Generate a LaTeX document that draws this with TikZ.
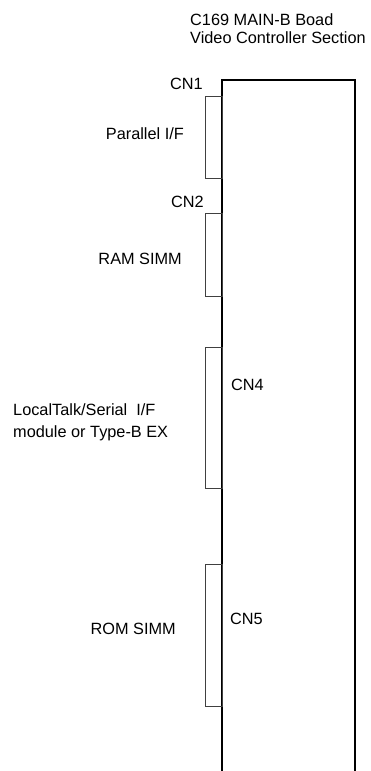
\documentclass[tikz,border=0pt]{standalone}
\usepackage{fontspec}
\setmainfont{Liberation Sans}
\begin{document}
\begin{tikzpicture}[x=1pt,y=-1pt,
  lbl/.style={font=\fontsize{16.3}{18}\selectfont,inner sep=0pt},
  slot/.style={draw=black!75,line width=0.8pt}]
  \useasboundingbox (0,0) rectangle (371,771);
  % Board title
  \node[lbl,anchor=base west] (title) at (190,25) {C169 MAIN-B Boad};
  \node[lbl,anchor=base west] (section) at (190,43) {Video Controller Section};
  % Board outline (open at the bottom)
  \draw[line width=2pt] (222,771) -- (222,80) -- (355,80) -- (355,771);
  % Connector slots on the left edge
  \draw[slot] (205,96) rectangle (222,178);
  \draw[slot] (205,213) rectangle (222,296);
  \draw[slot] (205,347) rectangle (222,488);
  \draw[slot] (205,564) rectangle (222,706);
  % Connector names
  \node[lbl,anchor=base east] (cn1) at (203,89) {CN1};
  \node[lbl,anchor=base east] (cn2) at (204,207) {CN2};
  \node[lbl,anchor=base west] (cn4) at (231,390) {CN4};
  \node[lbl,anchor=base west] (cn5) at (230,624) {CN5};
  % What plugs into each connector
  \node[lbl,anchor=base east] (par) at (184,139) {Parallel I/F};
  \node[lbl,anchor=base east] (ram) at (182,264) {RAM SIMM};
  \node[lbl,anchor=base west] (ltalk) at (13,415) {LocalTalk/Serial\ \ I/F};
  \node[lbl,anchor=base west] (module) at (13,437) {module or Type-B EX};
  \node[lbl,anchor=base east] (rom) at (176,634) {ROM SIMM};
\end{tikzpicture}
\end{document}
